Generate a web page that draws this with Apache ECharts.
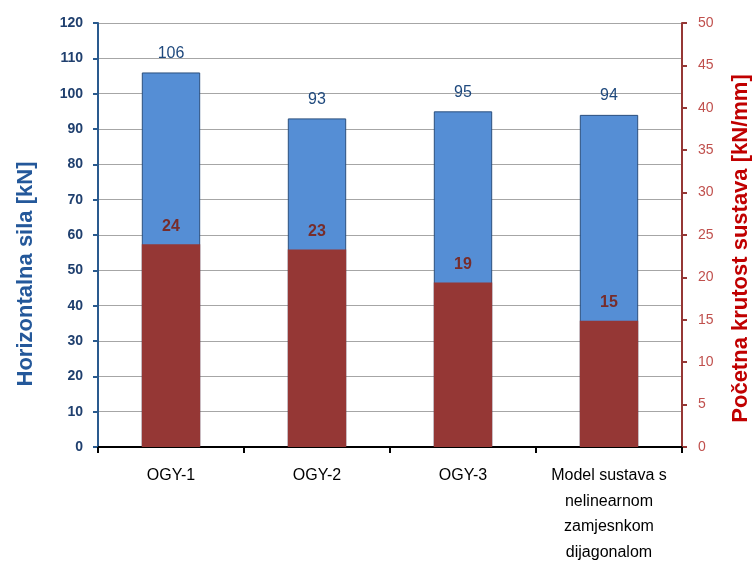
<!DOCTYPE html>
<html>
<head>
<meta charset="utf-8">
<script src="https://cdn.jsdelivr.net/npm/echarts@6/dist/echarts.min.js"></script>
<style>
  html, body { margin: 0; padding: 0; background: #fff; }
  #main { width: 754px; height: 562px; }
</style>
</head>
<body>
<div id="main"></div>
<script>
// kategorije i vrijednosti
var categories = ['OGY-1', 'OGY-2', 'OGY-3', 'Model sustava s\nnelinearnom\nzamjesnkom\ndijagonalom']
var silaValues = [106, 93, 95, 94]          // Horizontalna sila [kN]
var krutostValues = [23.9, 23.3, 19.4, 14.9] // Početna krutost sustava [kN/mm]
var leftTicks = [0, 120, 10]
var rightTicks = [0, 50, 5]

;(function () {
    var font = '"Liberation Sans", Arial, sans-serif'
    var myChart = echarts.init(document.querySelector('#main'))
    var option = {
        animation: false,
        backgroundColor: '#fff',
        textStyle: { fontFamily: font },
        grid: { left: 98, right: 72, top: 23, bottom: 115, outerBoundsMode: 'none' },
        xAxis: {
            type: 'category',
            data: categories,
            axisLine: { lineStyle: { color: '#000', width: 2 } },
            axisTick: { show: true, length: 6, lineStyle: { color: '#000', width: 2 } },
            axisLabel: {
                color: '#000',
                fontSize: 16,
                lineHeight: 25.5,
                margin: 16,
                interval: 0
            }
        },
        yAxis: [
            {
                type: 'value',
                min: leftTicks[0],
                max: leftTicks[1],
                interval: leftTicks[2],
                name: 'Horizontalna sila [kN]',
                nameLocation: 'middle',
                nameGap: 61,
                // pomak naziva prema dolje
                nameTextStyle: { color: '#24589a', fontSize: 22, fontWeight: 'bold', padding: [0, 78, 0, 0] },
                axisLine: { show: true, lineStyle: { color: '#2a5a8e', width: 2 } },
                axisTick: { show: true, length: 5, lineStyle: { color: '#2a5a8e', width: 2 } },
                axisLabel: { color: '#1f3f6e', fontSize: 14, fontWeight: 'bold', margin: 15 },
                splitLine: { lineStyle: { color: '#a6a6a6', width: 1 } }
            },
            {
                type: 'value',
                min: rightTicks[0],
                max: rightTicks[1],
                interval: rightTicks[2],
                position: 'right',
                name: 'Početna krutost sustava [kN/mm]',
                nameLocation: 'middle',
                nameGap: 48,
                nameRotate: 90,
                nameTextStyle: { color: '#c00000', fontSize: 22, fontWeight: 'bold', padding: [0, 27, 0, 0] },
                axisLine: { show: true, lineStyle: { color: '#953735', width: 2 } },
                axisTick: { show: true, length: 5, lineStyle: { color: '#953735', width: 2 } },
                axisLabel: { color: '#c0504d', fontSize: 14, margin: 16 },
                splitLine: { show: false }
            }
        ],
        series: [
            {
                name: 'Horizontalna sila',
                type: 'bar',
                yAxisIndex: 0,
                data: silaValues,
                barWidth: '40%',
                itemStyle: { color: '#558ed5', borderColor: '#2b4f7e', borderWidth: 1 },
                label: {
                    show: true,
                    position: 'top',
                    distance: 11,
                    color: '#1f497d',
                    fontSize: 16
                }
            },
            {
                name: 'Početna krutost',
                type: 'bar',
                yAxisIndex: 1,
                data: krutostValues,
                barWidth: '40%',
                barGap: '-100%',
                itemStyle: { color: '#953735' },
                label: {
                    show: true,
                    position: 'top',
                    distance: 10,
                    color: '#772c2a',
                    fontSize: 16,
                    fontWeight: 'bold',
                    formatter: function (p) { return Math.round(p.value) }
                }
            }
        ]
    }
    myChart.setOption(option)
    window.addEventListener('resize', function () {
        myChart.resize()
    })
})()
</script>
</body>
</html>
